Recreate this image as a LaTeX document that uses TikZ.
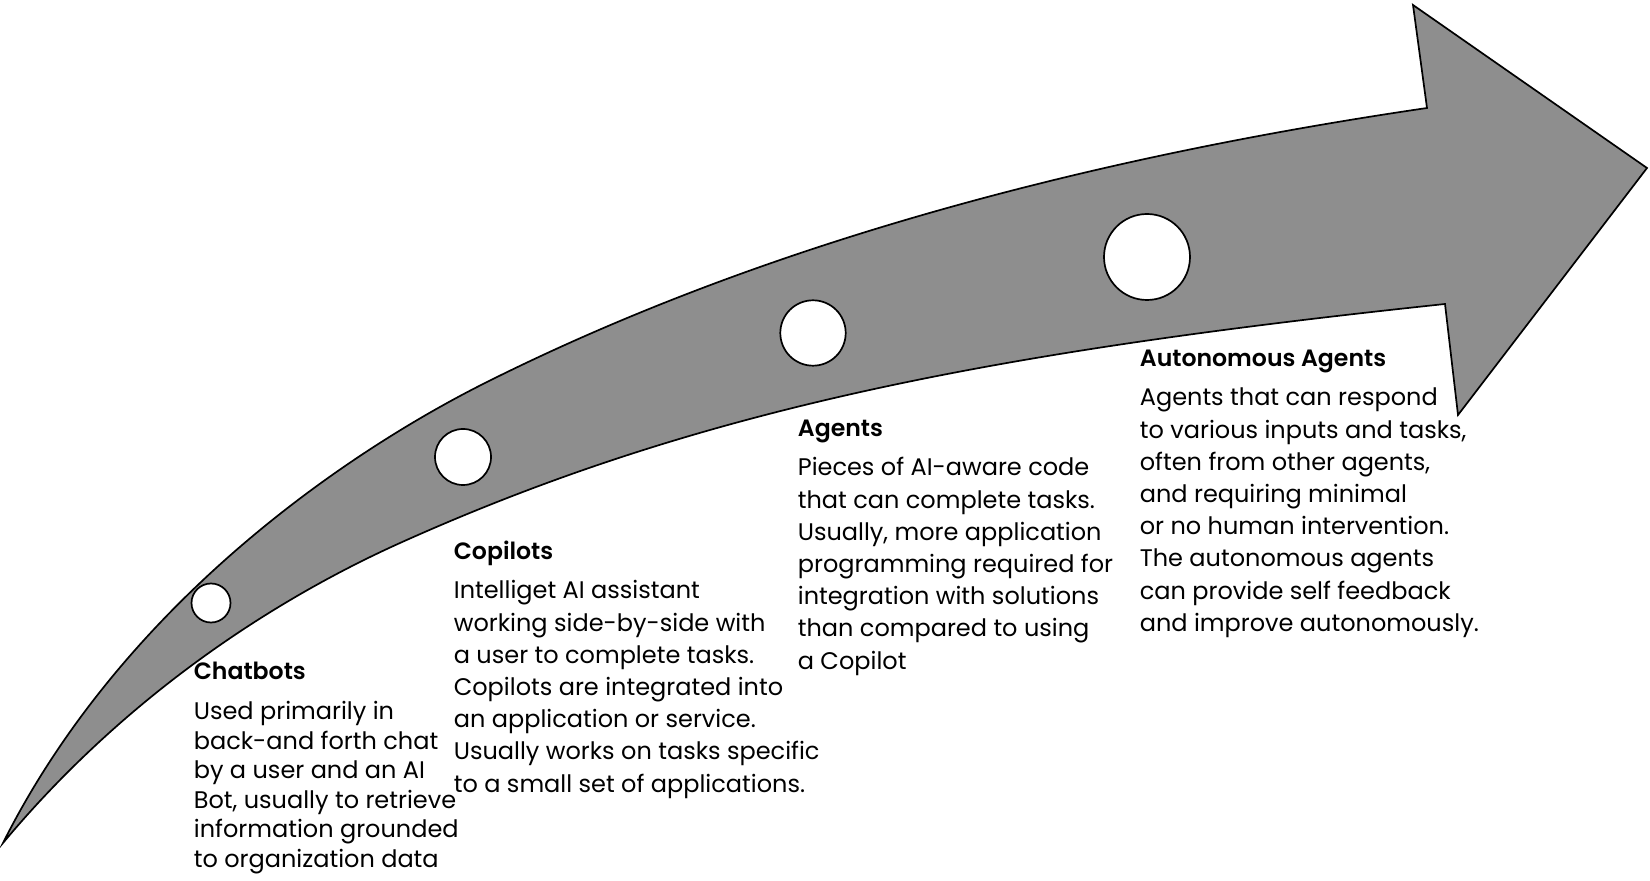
\documentclass[tikz,border=0pt]{standalone}
\usepackage{fontspec}
\setmainfont{Poppins}
\IfFontExistsTF{Poppins SemiBold}{\newfontfamily\headfont{Poppins SemiBold}}{\newcommand{\headfont}{\bfseries}}
\usetikzlibrary{positioning}
\definecolor{bandgray}{HTML}{8E8E8E}
\newcommand{\firstline}{\rule{0pt}{10pt}}
\begin{document}
\begin{tikzpicture}[x=0.5pt, y=-0.5pt, line width=0.85pt,
		main/.style = {draw, circle, fill=white, inner sep=0pt},
		title/.style = {anchor=base west, inner sep=0pt, font=\fontsize{11.8}{16.1}\selectfont\headfont},
		body/.style = {anchor=north west, inner sep=0pt, align=left, font=\fontsize{12}{16.1}\selectfont}]
		\useasboundingbox (0,0) rectangle (1650,881);
		% the curved arrow
		\draw[fill=bandgray] (3,843) .. controls (120,610) and (337,457) .. (487,382)
		.. controls (787,232) and (1127,152) .. (1427,108)
		-- (1413,5) -- (1647,168) -- (1458,415) -- (1445,304)
		.. controls (995,351.7) and (700,408) .. (400,543)
		.. controls (270,601.5) and (123,699) .. (3,843) -- cycle;
		
		\node[main, minimum size=19.5pt] (1) at (211,603) {};
		\node[main, minimum size=28pt] (2) at (463,457) {};
		\node[main, minimum size=32.7pt] (3) at (813,333) {};
		\node[main, minimum size=43pt] (4) at (1147,257) {};
		
		\node[title] (t1) at (193,680) {Chatbots};
		\node[body, font=\fontsize{12}{14.75}\selectfont] (b1) [below right=9.5pt and 0pt of t1.base west] {\firstline Used primarily in\\back-and forth chat\\by a user and an AI\\Bot, usually to retrieve\\information grounded\\to organization data};
		
		\node[title] (t2) at (453,560) {Copilots};
		\node[body] (b2) [below right=9pt and 0pt of t2.base west] {\firstline Intelliget AI assistant\\working side-by-side with\\a user to complete tasks.\\Copilots are integrated into\\an application or service.\\Usually works on tasks specific\\to a small set of applications.};
		
		\node[title] (t3) at (797,437) {Agents};
		\node[body] (b3) [below right=9pt and 0pt of t3.base west] {\firstline Pieces of AI-aware code\\that can complete tasks.\\Usually, more application\\programming required for\\integration with solutions\\than compared to using\\a Copilot};
		
		\node[title] (t4) at (1139,367) {Autonomous Agents};
		\node[body] (b4) [below right=9pt and 0pt of t4.base west] {\firstline Agents that can respond\\to various inputs and tasks,\\often from other agents,\\and requiring minimal\\or no human intervention.\\The autonomous agents\\can provide self feedback\\and improve autonomously.};
	\end{tikzpicture}
\end{document}
